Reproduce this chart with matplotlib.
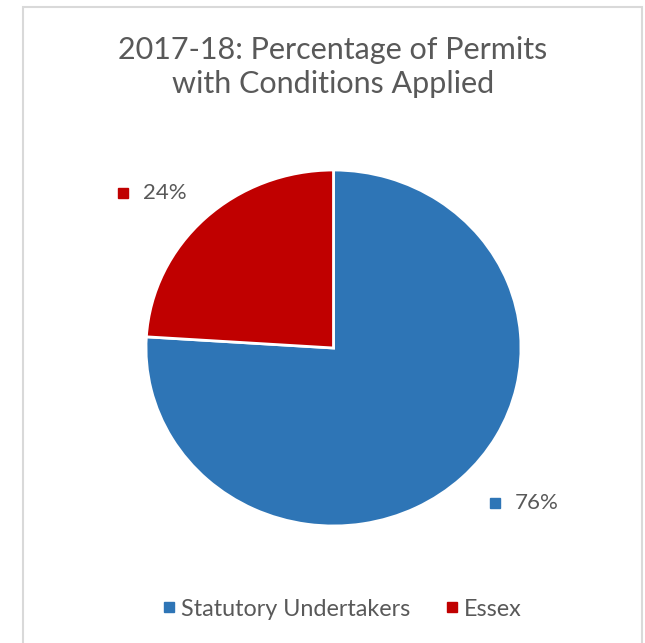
import matplotlib.pyplot as plt
from matplotlib.patches import Rectangle
from matplotlib.lines import Line2D
import numpy as np

plt.rcParams['font.family'] = ['Lato', 'DejaVu Sans']

title = "2017-18: Percentage of Permits\nwith Conditions Applied"
categories = ["Statutory Undertakers", "Essex"]
values = [76, 24]
colors = ["#2E75B6", "#C00000"]
grey = "#595959"

W, H = 645, 643
fig = plt.figure(figsize=(W / 100, H / 100), dpi=100)

# chart frame
fig.add_artist(Rectangle((23 / W, -0.01), (642 - 23) / W, (H - 7) / H + 0.01,
                         transform=fig.transFigure, fill=False,
                         edgecolor="#d9d9d9", lw=1.5))

fig.text(333 / W, 1 - 67 / H, title, ha="center", va="center",
         fontsize=22, color=grey, linespacing=1.3)

# pie is slightly stretched horizontally in the reference
cx, cy, rx, ry = 333.5, 348, 187.5, 178
ax = fig.add_axes([(cx - rx) / W, (H - cy - ry) / H, 2 * rx / W, 2 * ry / H])
wedges, _ = ax.pie(values, colors=colors, startangle=90, counterclock=False,
                   wedgeprops=dict(edgecolor="white", linewidth=2))
ax.set_aspect("auto")
ax.set_xlim(-1, 1)
ax.set_ylim(-1, 1)

# data labels (x, y in pie units)
label_pos = [(0.862, -0.87), (-1.12, 0.87)]
for v, c, (lx, ly) in zip(values, colors, label_pos):
    ax.plot(lx, ly, marker="s", ms=6.5, color=c, clip_on=False)
    ax.text(lx + 0.105, ly, f"{v}%", ha="left", va="center",
            fontsize=16, color=grey, clip_on=False)

handles = [Line2D([], [], marker="s", ls="", ms=6.5, color=c) for c in colors]
fig.legend(handles, categories, loc="center", bbox_to_anchor=(342 / W, 1 - 609 / H),
           ncol=2, frameon=False, fontsize=16.8, labelcolor=grey,
           handlelength=0.6, handletextpad=0.2, columnspacing=1.5)

fig.savefig("out.png", dpi=100, facecolor="white")
